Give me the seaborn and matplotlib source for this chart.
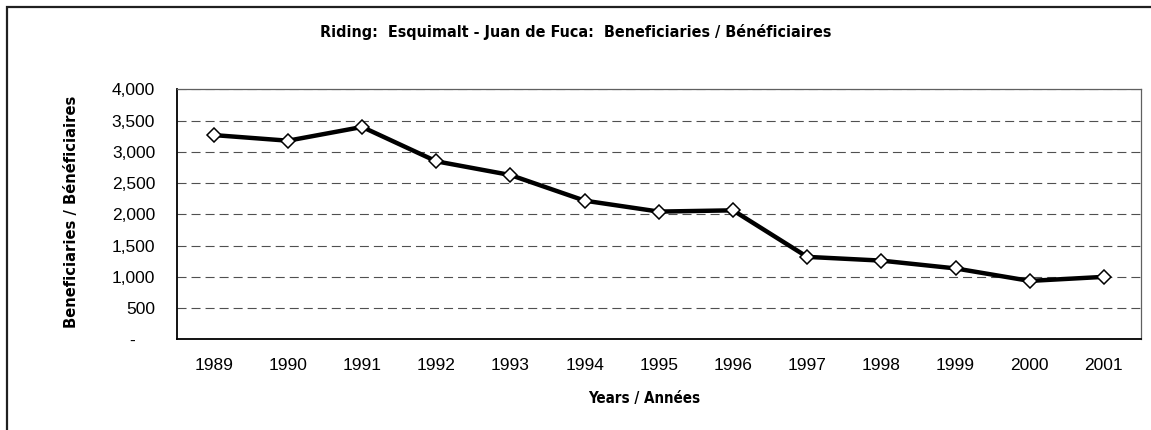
import numpy as np
import pandas as pd
import seaborn as sns
import matplotlib
matplotlib.use("Agg")
import matplotlib.pyplot as plt
from matplotlib import font_manager
from matplotlib.patches import Rectangle
from matplotlib.ticker import FuncFormatter

years = ["1989", "1990", "1991", "1992", "1993", "1994", "1995",
         "1996", "1997", "1998", "1999", "2000", "2001"]
beneficiaries = [3270, 3180, 3400, 2850, 2630, 2220, 2045,
                 2065, 1320, 1260, 1135, 935, 1000]
y_ticks = [0, 500, 1000, 1500, 2000, 2500, 3000, 3500, 4000]

title = "Riding:  Esquimalt - Juan de Fuca:  Beneficiaries / Bénéficiaires"
x_title = "Years / Années"
y_title = "Beneficiaries / Bénéficiaires"

df = pd.DataFrame({"year": years, "value": beneficiaries})

sns.set_style("white")
plt.rcParams["font.family"] = ["Liberation Sans", "DejaVu Sans"]
plt.rcParams["lines.scale_dashes"] = False
for k in ["text.color", "axes.labelcolor", "xtick.color", "ytick.color"]:
    plt.rcParams[k] = "black"

# condensed bold face for the titles, if one is around
names = {f.name for f in font_manager.fontManager.ttflist}
cond = [f for f in font_manager.fontManager.ttflist
        if "Condensed" in f.fname and "Bold" in f.fname and "Oblique" not in f.fname]
if "Liberation Sans Narrow" in names:
    narrow = dict(family="Liberation Sans Narrow", fontweight="bold")
elif cond:
    narrow = dict(fontproperties=font_manager.FontProperties(fname=cond[0].fname))
else:
    narrow = dict(family="Liberation Sans", fontweight="bold", fontstretch="condensed")

fig = plt.figure(figsize=(11.51, 4.30), dpi=100)
ax = fig.add_axes([0.1535, 0.2109, 0.8378, 0.5810])

sns.lineplot(data=df, x="year", y="value", ax=ax, color="black", lw=3.2,
             marker="D", markersize=7.5, markerfacecolor="white",
             markeredgecolor="black", markeredgewidth=1.1, zorder=5)

ax.set_xlim(-0.5, len(years) - 0.5)
ax.set_ylim(0, 4000)
ax.set_yticks(y_ticks)
ax.yaxis.set_major_formatter(FuncFormatter(lambda v, p: "-    " if v == 0 else f"{int(v):,}"))

# labels at category centres, tick marks at boundaries
ax.set_xticks(range(len(years)))
ax.set_xticklabels(years)
ax.set_xticks(np.arange(-0.5, len(years)), minor=True)
ax.tick_params(axis="x", which="major", length=0, pad=13.5, labelsize=12.5)
ax.tick_params(axis="x", which="minor", length=4, width=1, color="black", direction="out")
ax.tick_params(axis="y", length=4, width=1, color="black", direction="out",
               pad=11.5, labelsize=12.5)

ax.yaxis.grid(True, color="#505050", lw=0.8, linestyle=(0, (6.5, 3.6)))
ax.xaxis.grid(False)

for s in ["left", "bottom"]:
    ax.spines[s].set_color("black")
    ax.spines[s].set_linewidth(1.3)
for s in ["top", "right"]:
    ax.spines[s].set_color("#606060")
    ax.spines[s].set_linewidth(0.9)

ax.set_xlabel(x_title, fontsize=10.8, **narrow)
ax.xaxis.set_label_coords(0.4846, -0.205)
ax.set_ylabel(y_title, fontsize=11.8, **narrow)
ax.yaxis.set_label_coords(-0.1013, 0.51)

fig.text(0.5005, 1 - 32 / 430, title, fontsize=11.5, ha="center", va="center", **narrow)

# outer chart border (runs off the right and bottom edges)
fig.patches.append(Rectangle((6.5 / 1151, -0.1), 1.2, 1.1 - 7 / 430,
                             transform=fig.transFigure, fill=False,
                             edgecolor="#202020", lw=1.6, clip_on=False))

fig.savefig("out.png", dpi=100)
